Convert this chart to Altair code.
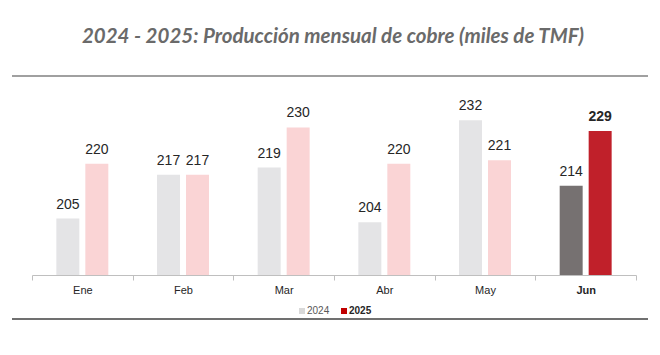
import altair as alt
import pandas as pd

months = ["Ene", "Feb", "Mar", "Abr", "May", "Jun"]
years = ["2024", "2025"]
v2024 = [205, 217, 219, 204, 232, 214]
v2025 = [220, 217, 230, 220, 221, 229]
title_text = "2024 - 2025: Producción mensual de cobre (miles de TMF)"

rows = []
for m, a, b in zip(months, v2024, v2025):
    for y, v in zip(years, [a, b]):
        key = y + ("-hl" if m == months[-1] else "")
        rows.append({"month": m, "year": y, "value": v, "key": key})
df = pd.DataFrame(rows)

W, H = 604, 184
base = alt.Chart(df).encode(
    x=alt.X("month:N", sort=months,
            scale=alt.Scale(paddingInner=0, paddingOuter=0),
            axis=alt.Axis(title=None, labelAngle=0, domainColor="#BFBFBF", domainWidth=1,
                          tickColor="#BFBFBF", tickSize=5, tickBand="extent",
                          labelFont="Liberation Sans", labelFontSize=11, labelColor="#262626",
                          labelPadding=4,
                          labelFontWeight={"condition": {"test": "datum.value == 'Jun'", "value": "bold"}, "value": "normal"})),
    xOffset=alt.XOffset("year:N", sort=years, scale=alt.Scale(paddingInner=0.207, paddingOuter=0.84)),
)

yscale = alt.Scale(domain=[189.5, 240], zero=False, nice=False)

bars = base.mark_bar().encode(
    y=alt.Y("value:Q", scale=yscale, axis=None),
    y2=alt.datum(189.5),
    color=alt.Color("key:N", legend=None,
                    scale=alt.Scale(domain=["2024", "2025", "2024-hl", "2025-hl"],
                                    range=["#E4E4E6", "#FAD4D5", "#767171", "#C0202A"])),
)

def lab(filt, weight):
    return base.mark_text(baseline="bottom", dy=-7, font="Liberation Sans", fontSize=14,
                          fontWeight=weight, color="#262626").encode(
        y=alt.Y("value:Q", scale=yscale, axis=None),
        text=alt.Text("value:Q"),
    ).transform_filter(filt)

labels_n = lab("datum.month != 'Jun'", "normal")
labels_j = lab("datum.month == 'Jun' && datum.year == '2024'", "normal")
labels_b = lab("datum.month == 'Jun' && datum.year == '2025'", "bold")

one = pd.DataFrame({"a": [0]})
deco = alt.Chart(one)
title = deco.mark_text(font="Lato", fontSize=20.5, fontStyle="italic", fontWeight="bold",
                       color="#6A6A6A", align="center", baseline="middle").encode(
    x=alt.value(301), y=alt.value(-54), text=alt.value(title_text))
top_rule = deco.mark_rule(color="#808080", strokeWidth=1.5).encode(
    x=alt.value(-20), x2=alt.value(616), y=alt.value(-15))
bot_rule = deco.mark_rule(color="#404040", strokeWidth=1.5).encode(
    x=alt.value(-20), x2=alt.value(616), y=alt.value(228))

lg1 = deco.mark_rect(color="#D9D9D9").encode(x=alt.value(267), x2=alt.value(273), y=alt.value(217), y2=alt.value(223))
lt1 = deco.mark_text(align="left", baseline="middle", font="Liberation Sans", fontSize=10, color="#595959").encode(
    x=alt.value(275), y=alt.value(220), text=alt.value(years[0]))
lg2 = deco.mark_rect(color="#C00000").encode(x=alt.value(309), x2=alt.value(315), y=alt.value(217), y2=alt.value(223))
lt2 = deco.mark_text(align="left", baseline="middle", font="Liberation Sans", fontSize=10, fontWeight="bold", color="#262626").encode(
    x=alt.value(317), y=alt.value(220), text=alt.value(years[1]))

chart = alt.layer(bars, labels_n, labels_b, labels_j, title, top_rule, bot_rule, lg1, lt1, lg2, lt2).properties(
    width=W, height=H,
    autosize=alt.AutoSizeParams(type="none"),
    padding={"left": 24, "top": 83, "right": 16, "bottom": 50},
).configure(background="white").configure_view(stroke=None, strokeWidth=0)

chart.save("out.html", embed_options={"renderer": "svg", "actions": False})
